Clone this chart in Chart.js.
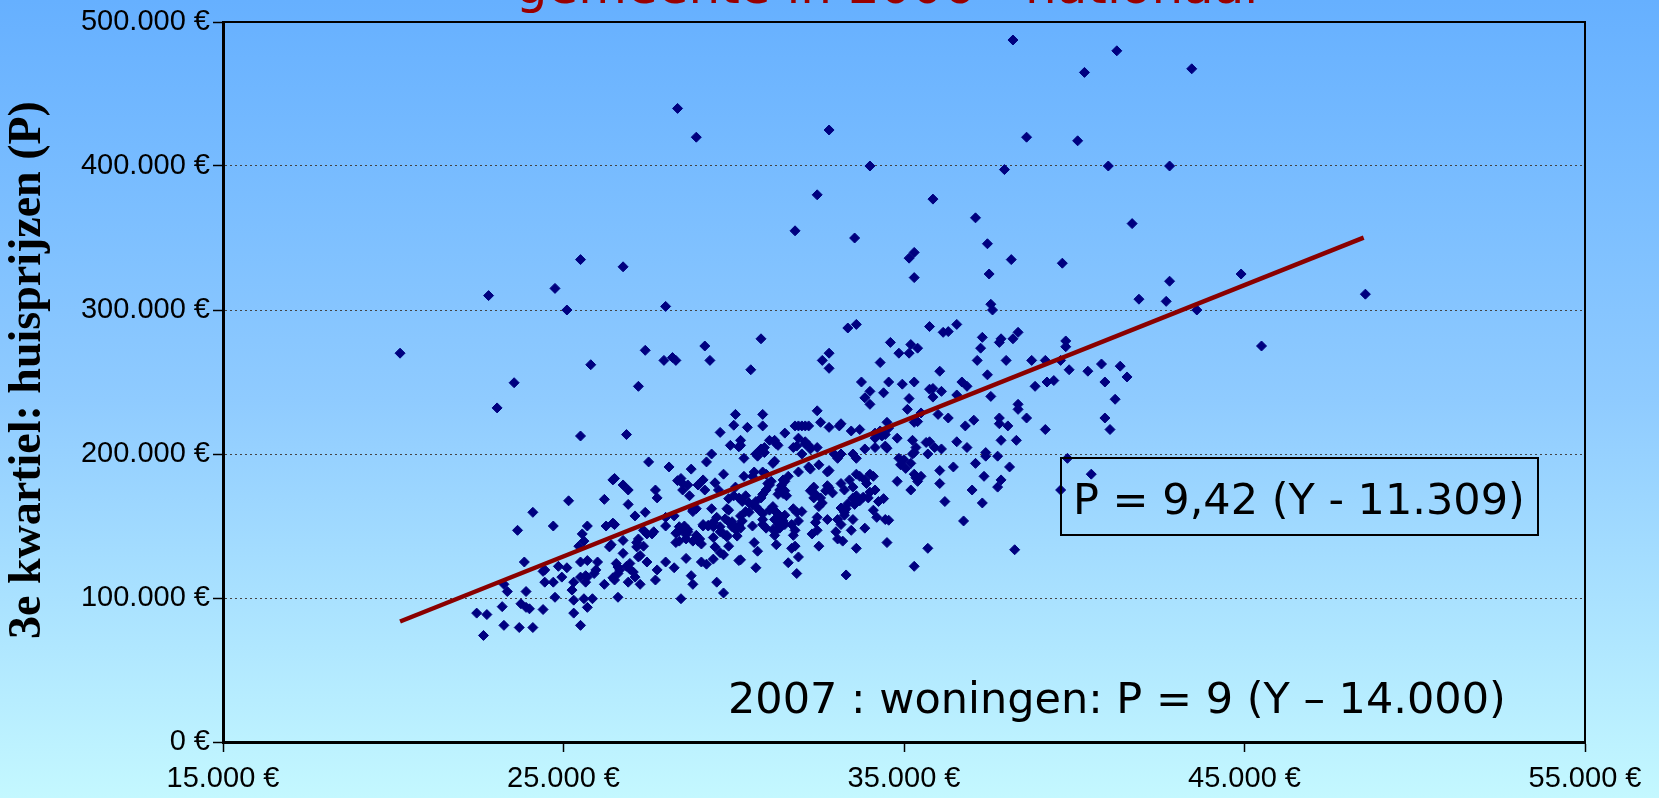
<!DOCTYPE html>
<html>
<head>
<meta charset="utf-8">
<title>Huisprijzen vs inkomen</title>
<script src="https://cdn.jsdelivr.net/npm/chart.js@4.4.1/dist/chart.umd.min.js"></script>
<style>
  html, body { margin: 0; padding: 0; }
  body {
    width: 1659px; height: 798px; overflow: hidden;
    background: linear-gradient(to bottom, #66b0ff 0%, #8fcbff 50%, #c4f8ff 100%);
  }
  canvas { display: block; }
</style>
</head>
<body>
<canvas id="chart" width="1659" height="798"></canvas>
<script>
// axis ticks
const xTicks = [15000, 25000, 35000, 45000, 55000];
const yTicks = [0, 100000, 200000, 300000, 400000, 500000];

// texts
const titel = 'gemeente in 2006 - nationaal';
const yTitel = '3e kwartiel: huisprijzen (P)';
const formule2006 = 'P = 9,42 (Y - 11.309)';
const formule2007 = '2007 : woningen: P = 9 (Y \u2013 14.000)';

// trend line endpoints
const trendX = [20200, 48500];
const trendY = [83700, 350300];

// [inkomen Y, huisprijs P] per gemeente
const puntenBoven = [
  [20200,270000],[22800,310000],[23550,249500],[24750,315000],[25100,300000],[25500,335000],[25800,262000],
  [26750,330000],[27200,247000],[27400,272000],[27950,265000],[28000,302500],[28200,267000],[28300,265000],
  [28350,440000],[28900,420000],[32800,425000],[34000,400000],[32450,380000],[31800,355000],[33550,350000],
  [35150,336000],[35300,340000],[35300,322500],[35850,377000],[37100,364000],[37450,346000],[37500,325000],
  [37550,304000],[37600,300000],[38150,335000],[37950,397500],[38200,487500],[38600,420000],[40100,417500],
  [40300,465000],[41250,480000],[41000,400000],[41700,360000],[39650,332500],[42800,400000],[42800,320000],
  [43450,467500],[41900,307500],[42700,306000],[43600,300000],[44900,325000],[45500,275000],[48550,311000]
];

const puntenBand = [
  [29150,275000],[29300,265000],[30800,280000],[30500,258500],[32600,265000],[32800,270000],[32800,259500],
  [33350,287500],[33600,290000],[33750,250000],[34000,243500],[33850,239000],[34300,263500],[34400,242500],
  [34550,250000],[34600,277500],[34850,270000],[35150,270000],[34950,248500],[35150,238500],[35300,250000],
  [35200,276000],[35400,273500],[35750,288500],[36150,284500],[36300,285000],[36550,290000],[35750,245000],
  [35850,245500],[35850,239500],[36050,257500],[36100,243500],[36550,241000],[36700,250000],[36850,247000],
  [37150,265000],[37250,273500],[37300,281000],[37450,255000],[37550,240000],[37800,277500],[37850,280000],
  [38000,265000],[38200,280000],[38350,284500],[38750,265000],[38850,247000],[39150,265000],[39200,250000],
  [39400,251000],[39600,265000],[39750,278500],[39750,274500],[39850,258500],[40400,257500],[40800,262500],
  [40900,250000],[41200,238000],[41350,261000],[41550,253500],[40900,225000],[41050,217000],[39800,197000],
  [40500,186000],[39600,175000],[34000,234500],[23050,232000]
];

const puntenRechts = [
  [36000,227500],[36300,225000],[37050,223500],[36800,219500],[37800,225000],[37800,221000],[38050,219500],
  [37850,209500],[38300,209500],[38350,234500],[38350,231000],[38600,225000],[39150,217000],[37400,201000],
  [37400,198500],[37750,198500],[37100,193500],[38100,191000],[37350,184500],[37850,182000],[37750,177000],
  [37000,175000],[37300,166000],[36750,153500],[38250,133500],[36450,191000],[36050,188500],[36050,179500],
  [36200,167000],[35700,134500],[35300,122000],[36550,208500],[36850,204500],[36100,203500],[35750,208500],
  [35650,208000],[35900,204500],[35350,204500],[35250,209500],[35700,200000],[35250,200000],[35300,201000],
  [34800,211000],[34500,222000],[34550,218000],[35100,231000],[35300,222000],[35400,222500],[35500,228500],
  [34850,197000],[35000,196000],[34900,192500],[35050,190000],[35200,193500],[35200,175000],[34800,181000],
  [35300,186000],[35350,183500],[35500,184500],[35400,181000]
];

const puntenMidden = [
  [34500,138500],[34450,154500],[34550,154000],[34400,169000],[34250,167000],[34200,156000],[34100,161000],
  [33850,148500],[33600,134500],[33300,116000],[34100,184500],[34000,186000],[33850,182000],[33900,179500],
  [34000,173500],[34150,175000],[33950,169500],[33800,170000],[33700,167500],[33500,169500],[33600,171000],
  [33550,165000],[33600,186000],[33700,184500],[33400,182000],[33150,179500],[33250,175000],[33500,177000],
  [33350,165500],[33300,162000],[33150,162500],[33250,159500],[33500,154500],[33450,147000],[33250,157500],
  [33050,154500],[33150,151000],[33000,146000],[33050,141000],[33200,139500],[32750,154500],[32500,136000],
  [32450,147000],[32300,144500],[32400,152500],[32450,156000],[32500,163500],[32600,166000],[32550,169500],
  [32750,178000],[32700,174500],[32800,176500],[32900,173000],[33150,200000],[33500,200000],[33600,197000],
  [32950,200000],[33050,197000],[32750,187500],[32800,188500],[32500,192500],[32350,177000],[32250,174500],
  [32400,172000],[32350,169500],[32200,191000],[32250,189500],[32000,200000],[32100,207000],[32200,206000],
  [32250,203500],[32450,204500],[32450,230000],[32550,222000],[32800,218500],[33100,219500],[33150,221000],
  [33450,216000],[33700,217000],[34150,211000],[34150,214500],[34250,213500],[34350,212500],[34450,213500],
  [34300,216000],[33850,203500],[34150,204500],[34450,205500],[34500,204000],[31800,219500],[31900,219500],
  [32000,219500],[32100,219500],[32200,219500],[31500,214500],[31900,211000],[32100,208500],[31750,204500],
  [31850,205500],[30850,227500],[30850,219500],[30400,218500],[31050,209500],[31200,209500],[31250,207000],
  [31300,206000],[30900,204500],[30800,203500],[30900,201000],[30650,200000],[30700,198500],[30300,197000],
  [30200,209500],[30200,206000],[31150,193500],[31200,195000],[30850,187500],[30950,186000],[30300,184500],
  [30550,184500],[30600,187500],[31900,187500],[31600,184500],[31450,182000],[31500,181000],[31400,178000],
  [31350,175000],[31500,174500],[31300,172000],[31450,172500],[31550,171000],[31050,178500],[31100,181000],
  [31000,179500],[30950,175000],[30850,172000],[30800,169500],[30650,167000],[30550,164500],[30350,171000],
  [30250,167000],[30450,166000],[30650,163500],[31150,163500],[31050,161000],[31250,159500],[31350,157000],
  [31500,157500],[31200,154500],[31300,151000],[31350,148500],[31500,151000],[31450,153500],[31250,147000],
  [31200,143500],[31150,147500],[30950,148500],[30850,151000],[30850,154500],[30750,161000],[30850,158500],
  [30450,159500],[30350,160000],[30200,157000],[30250,153500],[30200,148500],[30550,150000],[31750,162000],
  [31850,159500],[32000,160000],[31900,153500],[31700,151000],[31800,147000],[31750,143500],[30600,138500],
  [30700,132500],[30650,121000],[31250,137000],[31600,124500],[31700,134500],[31800,136000],[31900,128500],
  [31850,117000],[30200,126500]
];

const puntenLinks = [
  [25500,212500],[26850,213500],[27500,194500],[28100,191000],[28750,189500],[29350,200000],[29200,194500],
  [29600,215000],[30000,220000],[30050,227500],[29900,206000],[30150,205000],[29700,186000],[29450,180000],
  [30050,177000],[26450,182000],[26500,183000],[26750,178500],[26900,175000],[27700,175000],[27750,169500],
  [26200,168500],[26900,165000],[27100,157000],[27400,159500],[25150,167500],[24100,159500],[23650,147000],
  [24700,150000],[25700,150000],[25550,144500],[25600,139500],[25450,136000],[26250,150000],[26500,151000],
  [26450,152000],[28000,156000],[28250,157000],[28000,150000],[27600,144500],[27650,146000],[28300,145000],
  [28400,146500],[28550,147000],[28650,146000],[28600,141000],[28300,138500],[28400,139500],[28800,160000],
  [28900,162000],[29100,151000],[29250,150000],[29400,152500],[28900,143500],[29000,141000],[28950,139500],
  [29400,142000],[29450,135500],[29600,131500],[29700,130000],[29850,136000],[29800,143500],[30100,143000],
  [29950,153000],[30050,149000],[30150,126000],[29850,161000],[27350,147000],[27450,144500],[26350,135500],
  [26400,137000],[26750,140000],[27150,138500],[27200,141000],[27150,135500],[27350,136000],[27250,129500],
  [27200,128500],[27450,125000],[26750,131000],[26550,124000],[26600,121500],[26650,119500],[26600,117000],
  [26450,114000],[26500,112500],[26850,122000],[26950,124000],[26950,120000],[27050,118000],[27100,114500],
  [27250,109500],[26900,111000],[27750,119500],[28000,125000],[27700,112500],[28250,121000],[28600,127500],
  [28750,115500],[28800,109500],[29050,125000],[29200,123500],[29400,127000],[29500,111000],[29700,103500],
  [28450,99500],[26600,100500],[26200,109500],[26000,125000],[25950,119500],[25900,117000],[25700,126000],
  [25700,114500],[25500,125000],[25500,114500],[25650,115500],[25650,111000],[25600,99500],[25850,99500],
  [25700,93500],[25300,111000],[25250,105500],[25300,98500],[25300,89500],[25500,81000],[25100,121000],
  [24950,114500],[24850,122000],[24400,118500],[24450,119500],[24450,111000],[24700,111000],[24750,100500],
  [24400,92000],[23850,125000],[23900,104500],[23750,96000],[23900,93500],[24000,92500],[24100,79500],
  [23700,79500],[23250,81000],[23200,94000],[23250,109500],[23350,104500],[22450,89500],[22750,88500],
  [22650,74000],
  [28350,181500],[28450,183000],[28500,179500],[28500,175000],[28650,178500],[28700,171000],[28950,178500],
  [29100,182000],[29150,175000],[29550,175000],[28400,149500],[28550,150000],[28450,147500],[28650,147500],
  [28600,144000],[28800,139500],[28950,140000],[29050,137500],[29100,150000],[29250,150500],[29400,149500],
  [29400,152500],[29500,156000],[29600,149500],[29600,146000],[29700,144500],[29800,142500],[29750,155000],
  [29850,153000],[29950,149500],[30050,147500],[30150,150000],[29800,162000],[29850,169000],[30000,171000],
  [30150,169500],[29350,162000],[28800,161000]
];

const alleGemeenten = [].concat(puntenBoven, puntenBand, puntenRechts, puntenMidden, puntenLinks);

function euro(v) {
  return String(v).replace(/\B(?=(\d{3})+(?!\d))/g, '.') + ' \u20AC';
}

// frame + free texts, drawn on top of the chart
const overlayPlugin = {
  id: 'overlay',
  afterDraw(chart) {
    const ctx = chart.ctx;
    const a = chart.chartArea;
    ctx.save();

    // top and right edge of the plot frame
    ctx.strokeStyle = '#000';
    ctx.lineWidth = 2;
    ctx.beginPath();
    ctx.moveTo(a.left, a.top);
    ctx.lineTo(a.right, a.top);
    ctx.lineTo(a.right, a.bottom);
    ctx.stroke();

    // title, mostly cut off at the top edge
    ctx.fillStyle = '#990000';
    ctx.font = '50px "DejaVu Sans"';
    ctx.textAlign = 'center';
    ctx.textBaseline = 'alphabetic';
    ctx.fillText(titel, 887, 3);

    // y axis title
    ctx.save();
    ctx.translate(28, 370);
    ctx.rotate(-Math.PI / 2);
    ctx.fillStyle = '#000';
    ctx.font = 'bold 46px "Liberation Serif"';
    ctx.textAlign = 'center';
    ctx.textBaseline = 'middle';
    ctx.fillText(yTitel, 0, 0);
    ctx.restore();

    // formula box
    ctx.strokeStyle = '#000';
    ctx.lineWidth = 2;
    ctx.strokeRect(1061, 458, 477, 77);
    ctx.fillStyle = '#000';
    ctx.font = '43px "DejaVu Sans"';
    ctx.textAlign = 'left';
    ctx.fillText(formule2006, 1073, 514);

    // 2007 note
    ctx.fillText(formule2007, 728, 713);
    ctx.restore();
  }
};

Chart.defaults.font.family = '"Liberation Sans", Arial, sans-serif';
Chart.defaults.color = '#000';

const chart = new Chart(document.getElementById('chart'), {
  type: 'scatter',
  data: {
    datasets: [
      {
        label: 'trend',
        data: trendX.map((x, i) => ({ x: x, y: trendY[i] })),
        showLine: true,
        borderColor: '#8a0000',
        borderWidth: 4.5,
        pointRadius: 0,
        order: 0
      },
      {
        label: 'gemeenten',
        data: alleGemeenten.map(p => ({ x: p[0], y: p[1] })),
        pointStyle: 'rectRot',
        pointRadius: 5,
        backgroundColor: '#000080',
        borderColor: '#000080',
        borderWidth: 1,
        order: 1
      }
    ]
  },
  options: {
    responsive: false,
    animation: false,
    layout: { padding: { top: 22, right: 74, left: 0, bottom: 0 } },
    plugins: {
      legend: { display: false },
      tooltip: { enabled: false }
    },
    scales: {
      x: {
        type: 'linear',
        min: xTicks[0],
        max: xTicks[xTicks.length - 1],
        afterBuildTicks: s => { s.ticks = xTicks.map(v => ({ value: v })); },
        afterFit: s => { s.height = 56; },
        ticks: {
          font: { size: 29 },
          padding: 10,
          maxRotation: 0,
          callback: v => euro(v)
        },
        grid: {
          drawOnChartArea: false,
          drawTicks: true,
          tickLength: 10,
          tickColor: '#000',
          tickWidth: 1.5
        },
        border: { display: true, color: '#000', width: 3 }
      },
      y: {
        min: yTicks[0],
        max: yTicks[yTicks.length - 1],
        afterBuildTicks: s => { s.ticks = yTicks.map(v => ({ value: v })); },
        afterFit: s => { s.width = 223; },
        ticks: {
          font: { size: 29 },
          padding: 3,
          callback: v => euro(v)
        },
        grid: {
          color: '#444',
          lineWidth: 1,
          drawTicks: true,
          tickLength: 10,
          tickColor: '#000',
          tickWidth: 1.5
        },
        border: { display: true, color: '#000', width: 3, dash: [2, 3] }
      }
    }
  },
  plugins: [overlayPlugin]
});
</script>
</body>
</html>
